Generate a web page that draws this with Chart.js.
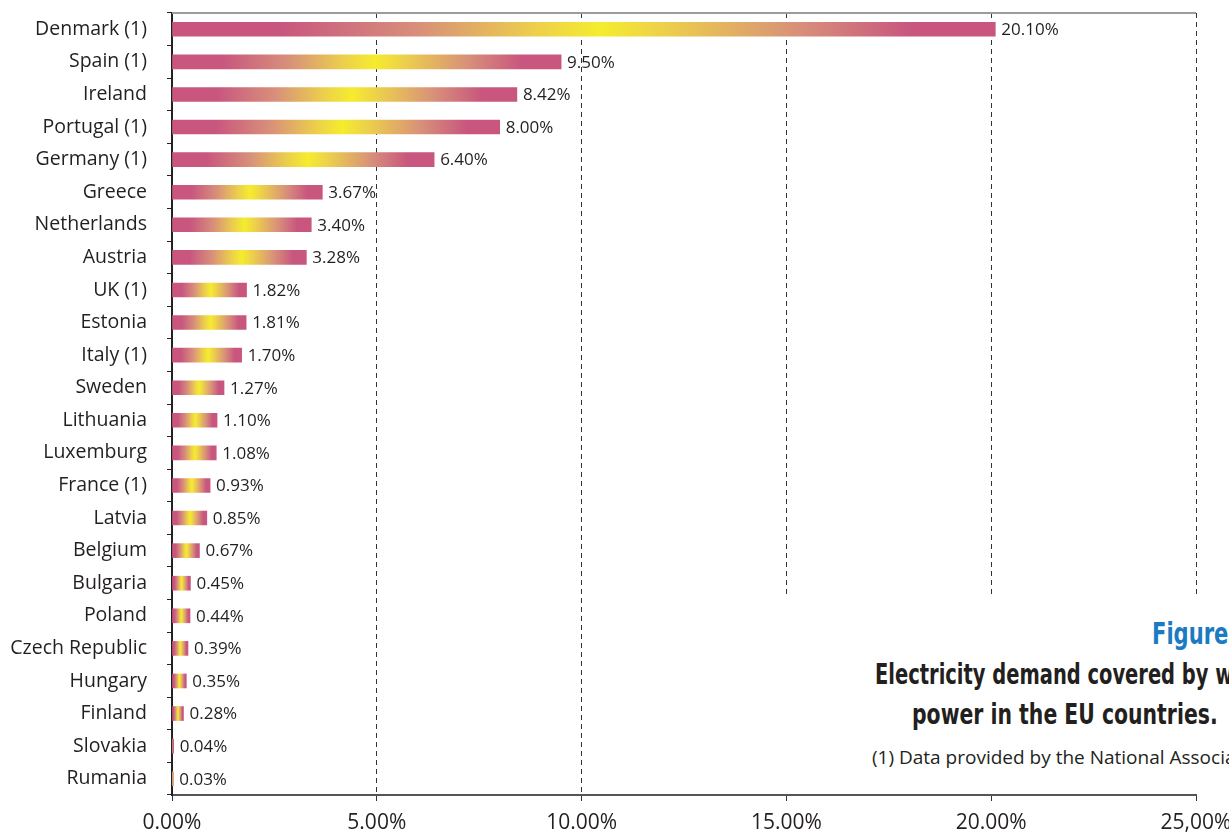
<!DOCTYPE html>
<html>
<head>
<meta charset="utf-8">
<script src="https://cdn.jsdelivr.net/npm/chart.js"></script>
<style>
  html, body { margin: 0; padding: 0; background: #fff; overflow: hidden; }
  #wrap { position: relative; width: 1229px; height: 832px; overflow: hidden; }
  #cover { position: absolute; left: 700px; top: 598px; width: 529px; height: 195px; background: #fff; }
  .txt { position: absolute; white-space: nowrap; }
  .head { font-family: "Liberation Sans Narrow", "DejaVu Sans Condensed", sans-serif; font-weight: bold; transform-origin: left top; }
</style>
</head>
<body>
<div id="wrap">
  <canvas id="chart"></canvas>
  <div id="cover">
    <div class="txt head" style="left:452px; top:18px; font-size:30px; color:#1b7bc2; transform:scaleX(0.78);">Figure</div>
    <div class="txt head" style="left:175px; top:60px; font-size:28px; color:#231f20; transform:scaleX(0.773);">Electricity demand covered by wind</div>
    <div class="txt head" style="left:212px; top:100px; font-size:28px; color:#231f20; transform:scaleX(0.81);">power in the EU countries.</div>
    <div class="txt" style="left:172px; top:146px; font-family:'Open Sans', sans-serif; font-size:19px; color:#231f20;">(1) Data provided by the National Associations</div>
  </div>
</div>
<script>
// countries, top to bottom
const countries = [
  'Denmark (1)', 'Spain (1)', 'Ireland', 'Portugal (1)', 'Germany (1)', 'Greece',
  'Netherlands', 'Austria', 'UK (1)', 'Estonia', 'Italy (1)', 'Sweden',
  'Lithuania', 'Luxemburg', 'France (1)', 'Latvia', 'Belgium', 'Bulgaria',
  'Poland', 'Czech Republic', 'Hungary', 'Finland', 'Slovakia', 'Rumania'
];
// share of electricity demand covered by wind (%)
const windShare = [
  20.10, 9.50, 8.42, 8.00, 6.40, 3.67,
  3.40, 3.28, 1.82, 1.81, 1.70, 1.27,
  1.10, 1.08, 0.93, 0.85, 0.67, 0.45,
  0.44, 0.39, 0.35, 0.28, 0.04, 0.03
];
const xTicks = [0, 5, 10, 15, 20, 25];

const PINK = '#c8567f';
const YELLOW = '#f5ec2e';

function barFill(ctx) {
  const chart = ctx.chart;
  const xs = chart.scales && chart.scales.x;
  if (!chart.chartArea || !xs || ctx.parsed == null) return PINK;
  const x0 = xs.getPixelForValue(0);
  const x1 = xs.getPixelForValue(ctx.parsed.x);
  if (x1 - x0 < 1) return PINK;
  const g = chart.ctx.createLinearGradient(x0, 0, x1, 0);
  g.addColorStop(0, PINK);
  g.addColorStop(0.13, PINK);
  g.addColorStop(0.3, '#d8907a');
  g.addColorStop(0.44, '#eccf4c');
  g.addColorStop(0.52, YELLOW);
  g.addColorStop(0.6, '#eccf4c');
  g.addColorStop(0.76, '#d8907a');
  g.addColorStop(0.9, PINK);
  g.addColorStop(1, PINK);
  return g;
}

// value labels at bar ends + top frame line
const labelPlugin = {
  id: 'valueLabels',
  afterDatasetsDraw(chart) {
    const c = chart.ctx;
    const area = chart.chartArea;
    c.save();
    c.strokeStyle = '#9c9c9c';
    c.lineWidth = 2;
    c.beginPath();
    c.moveTo(area.left, area.top);
    c.lineTo(area.right, area.top);
    c.stroke();
    c.font = '17px "Open Sans", sans-serif';
    c.fillStyle = '#231f20';
    c.textBaseline = 'middle';
    c.textAlign = 'left';
    const meta = chart.getDatasetMeta(0);
    meta.data.forEach((bar, i) => {
      c.fillText(windShare[i].toFixed(2) + '%', bar.x + 6, bar.y + 1);
    });
    c.restore();
  }
};

new Chart(document.getElementById('chart'), {
  type: 'bar',
  data: {
    labels: countries,
    datasets: [{
      data: windShare,
      backgroundColor: barFill,
      barThickness: 14,
      borderWidth: 0
    }]
  },
  options: {
    indexAxis: 'y',
    responsive: true,
    maintainAspectRatio: false,
    animation: false,
    events: [],
    layout: { padding: { top: 13, right: 33, left: 0, bottom: 0 } },
    plugins: {
      legend: { display: false },
      tooltip: { enabled: false },
      title: { display: false }
    },
    scales: {
      x: {
        min: 0,
        max: 25,
        afterBuildTicks: (scale) => { scale.ticks = xTicks.map(v => ({ value: v })); },
        afterFit: (scale) => {
          scale.height = 37;
          scale.paddingLeft = 0;
          scale.paddingRight = 0;
        },
        ticks: {
          color: '#231f20',
          font: { family: '"Open Sans", sans-serif', size: 21 },
          padding: 9,
          maxRotation: 0,
          callback: (v) => v === 25 ? '25,00%' : v.toFixed(2) + '%'
        },
        grid: {
          color: '#333',
          lineWidth: 1,
          tickBorderDash: [10, 0],
          tickLength: 6,
          tickColor: '#333'
        },
        border: { color: '#555', width: 2, dash: [5, 4] }
      },
      y: {
        afterFit: (scale) => {
          scale.width = 172;
          scale.paddingTop = 0;
          scale.paddingBottom = 0;
        },
        ticks: {
          color: '#231f20',
          font: { family: '"Open Sans", sans-serif', size: 19.5 },
          padding: 20
        },
        grid: {
          drawOnChartArea: false,
          offset: true,
          tickLength: 5,
          tickColor: '#222'
        },
        border: { color: '#222', width: 2 }
      }
    }
  },
  plugins: [labelPlugin]
});
</script>
</body>
</html>
